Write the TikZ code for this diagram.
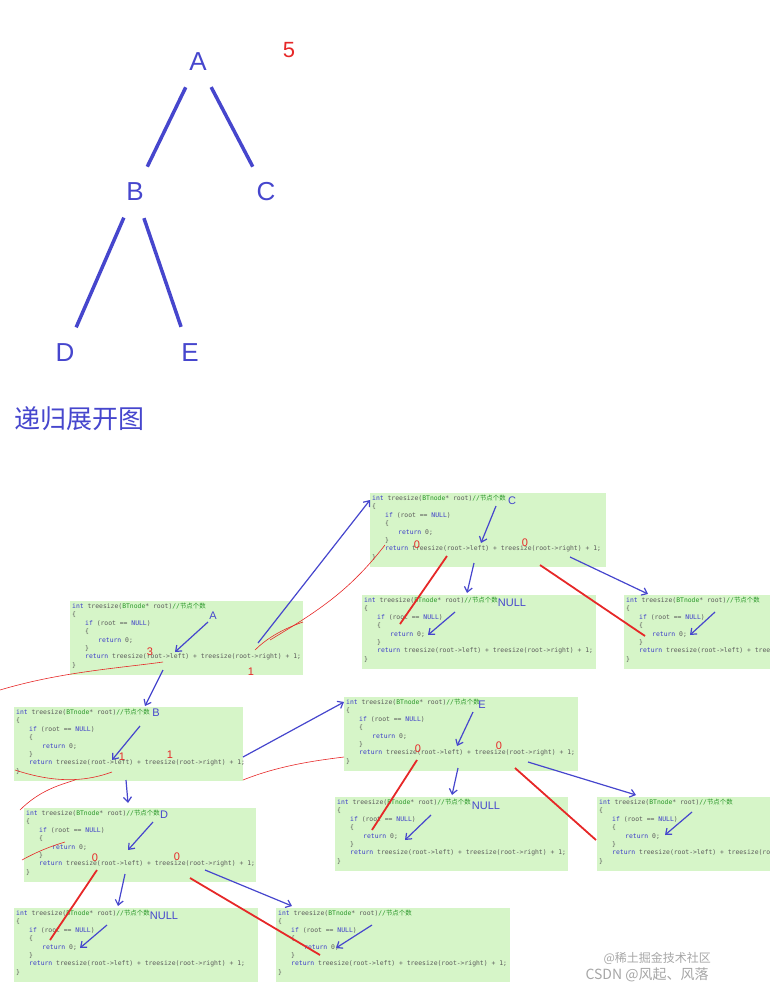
\documentclass[tikz,border=0pt]{standalone}
\usepackage{fontspec}
\setmainfont{Liberation Sans}
\setmonofont{DejaVu Sans Mono}
\newfontfamily\cjk{Noto Sans CJK SC}
\usetikzlibrary{arrows.meta}
\definecolor{tb}{RGB}{70,70,205}
\definecolor{tr}{RGB}{230,40,40}
\definecolor{cg}{RGB}{214,245,200}
\definecolor{kw}{RGB}{60,60,200}
\definecolor{cm}{RGB}{40,150,40}
\definecolor{ct}{RGB}{90,90,90}
\newcommand\codelines{{\color{kw}int} treesize({\color{cm}BTnode}* root){\color{cm}//{\cjk 节点个数}}\\
\{\\
\hspace*{13pt}{\color{kw}if} (root == {\color{kw}NULL})\\
\hspace*{13pt}\{\\
\hspace*{26pt}{\color{kw}return} 0;\\
\hspace*{13pt}\}\\
\hspace*{13pt}{\color{kw}return} treesize(root->left) + treesize(root->right) + 1;\\
\}}
\newcommand\cbox[4]{\node[codebg, minimum width=#4pt, anchor=north west] (#1) at (#2,#3) {};
\node[codetxt, anchor=north west] at (#2+1,#3+1) {\codelines};}
\begin{document}
\begin{tikzpicture}[x=1pt,y=-1pt,
 codebg/.style={fill=cg, draw=none, minimum height=74pt, inner sep=0},
 codetxt/.style={font=\ttfamily\fontsize{6.4}{8.4}\selectfont, text=ct, align=left, inner sep=1pt},
 tnode/.style={text=tb, font=\fontsize{26}{28}\selectfont, inner sep=0},
 tedge/.style={draw=tb, line width=3.5pt, shorten <=18pt, shorten >=18pt},
 ba/.style={draw=tb, line width=1.2pt, -{Straight Barb[length=5pt,width=8pt]}},
 rl/.style={draw=tr, line width=1.8pt},
 rt/.style={draw=tr, line width=0.6pt},
 lab/.style={text=tb, font=\fontsize{11}{12}\selectfont, inner sep=0},
 rn/.style={text=tr, font=\fontsize{11}{12}\selectfont, inner sep=0}]
\useasboundingbox (0,0) rectangle (770,992);
\clip (0,0) rectangle (770,992);
% tree
\node[tnode] (A) at (198,62) {A};
\node[tnode] (B) at (135,192) {B};
\node[tnode] (C) at (266,192) {C};
\node[tnode] (D) at (65,353) {D};
\node[tnode] (E) at (190,353) {E};
\path[tedge] (A) -- (B);
\path[tedge] (A) -- (C);
\path[tedge] (B) -- (D);
\path[tedge] (B) -- (E);
\node[text=tr, font=\fontsize{22}{24}\selectfont] (five) at (289,50) {5};
\node[text=tb, font=\cjk\fontsize{26}{28}\selectfont, anchor=west, inner sep=0] (title) at (14,419) {递归展开图};
% code boxes
\cbox{bA}{70}{601}{233}
\cbox{bB}{14}{707}{229}
\cbox{bD}{24}{808}{232}
\cbox{bDL}{14}{908}{244}
\cbox{bDR}{276}{908}{234}
\cbox{bC}{370}{493}{236}
\cbox{bCL}{362}{595}{234}
\cbox{bCR}{624}{595}{160}
\cbox{bE}{344}{697}{234}
\cbox{bEL}{335}{797}{233}
\cbox{bER}{597}{797}{180}
% labels
\node[lab] (lA) at (213,616) {A};
\node[lab] (lB) at (156,713) {B};
\node[lab] (lD) at (164,815) {D};
\node[lab] (lC) at (512,501) {C};
\node[lab] (lE) at (482,705) {E};
\node[lab] at (164,916) {NULL};
\node[lab] at (512,603) {NULL};
\node[lab] at (486,806) {NULL};
\node[rn] at (150,652) {3};
\node[rn] at (251,672) {1};
\node[rn] at (122,757) {1};
\node[rn] at (170,755) {1};
\node[rn] at (95,858) {0};
\node[rn] at (177,857) {0};
\node[rn] at (417,545) {0};
\node[rn] at (525,543) {0};
\node[rn] at (418,749) {0};
\node[rn] at (499,746) {0};
% blue arrows
\draw[ba] (208,622) -- (175,652);
\draw[ba] (258,643) -- (370,500);
\draw[ba] (163,670) -- (145,706);
\draw[ba] (140,726) -- (112,760);
\draw[ba] (126,780) -- (128,803);
\draw[ba] (243,757) -- (344,702);
\draw[ba] (153,822) -- (128,850);
\draw[ba] (125,874) -- (118,906);
\draw[ba] (205,870) -- (292,906);
\draw[ba] (496,506) -- (481,543);
\draw[ba] (474,563) -- (467,593);
\draw[ba] (570,557) -- (648,594);
\draw[ba] (455,612) -- (428,635);
\draw[ba] (715,612) -- (690,635);
\draw[ba] (473,712) -- (457,746);
\draw[ba] (458,768) -- (452,795);
\draw[ba] (528,762) -- (636,795);
\draw[ba] (431,815) -- (405,840);
\draw[ba] (692,812) -- (665,835);
\draw[ba] (107,925) -- (80,948);
\draw[ba] (372,925) -- (336,948);
% red thick
\draw[rl] (50,940) -- (97,870);
\draw[rl] (320,955) -- (190,878);
\draw[rl] (400,624) -- (447,556);
\draw[rl] (645,636) -- (540,565);
\draw[rl] (372,830) -- (417,760);
\draw[rl] (596,840) -- (515,768);
% red thin
\draw[rt] (0,690) .. controls (60,672) and (120,668) .. (163,662);
\draw[rt] (303,622) .. controls (280,630) and (265,640) .. (255,650);
\draw[rt] (270,640) .. controls (320,610) and (350,590) .. (385,545);
\draw[rt] (15,770) .. controls (60,785) and (90,780) .. (112,772);
\draw[rt] (20,810) .. controls (40,790) and (60,785) .. (75,780);
\draw[rt] (243,780) .. controls (280,765) and (320,760) .. (344,757);
\draw[rt] (22,860) .. controls (40,850) and (55,845) .. (65,842);
% watermark
\node[text=gray!70, font=\cjk\fontsize{12}{13}\selectfont, anchor=west] (w1) at (600,958) {@稀土掘金技术社区};
\node[text=gray!70, font=\cjk\fontsize{14}{15}\selectfont, anchor=west] (w2) at (582,975) {CSDN @风起、风落};
\end{tikzpicture}
\end{document}
